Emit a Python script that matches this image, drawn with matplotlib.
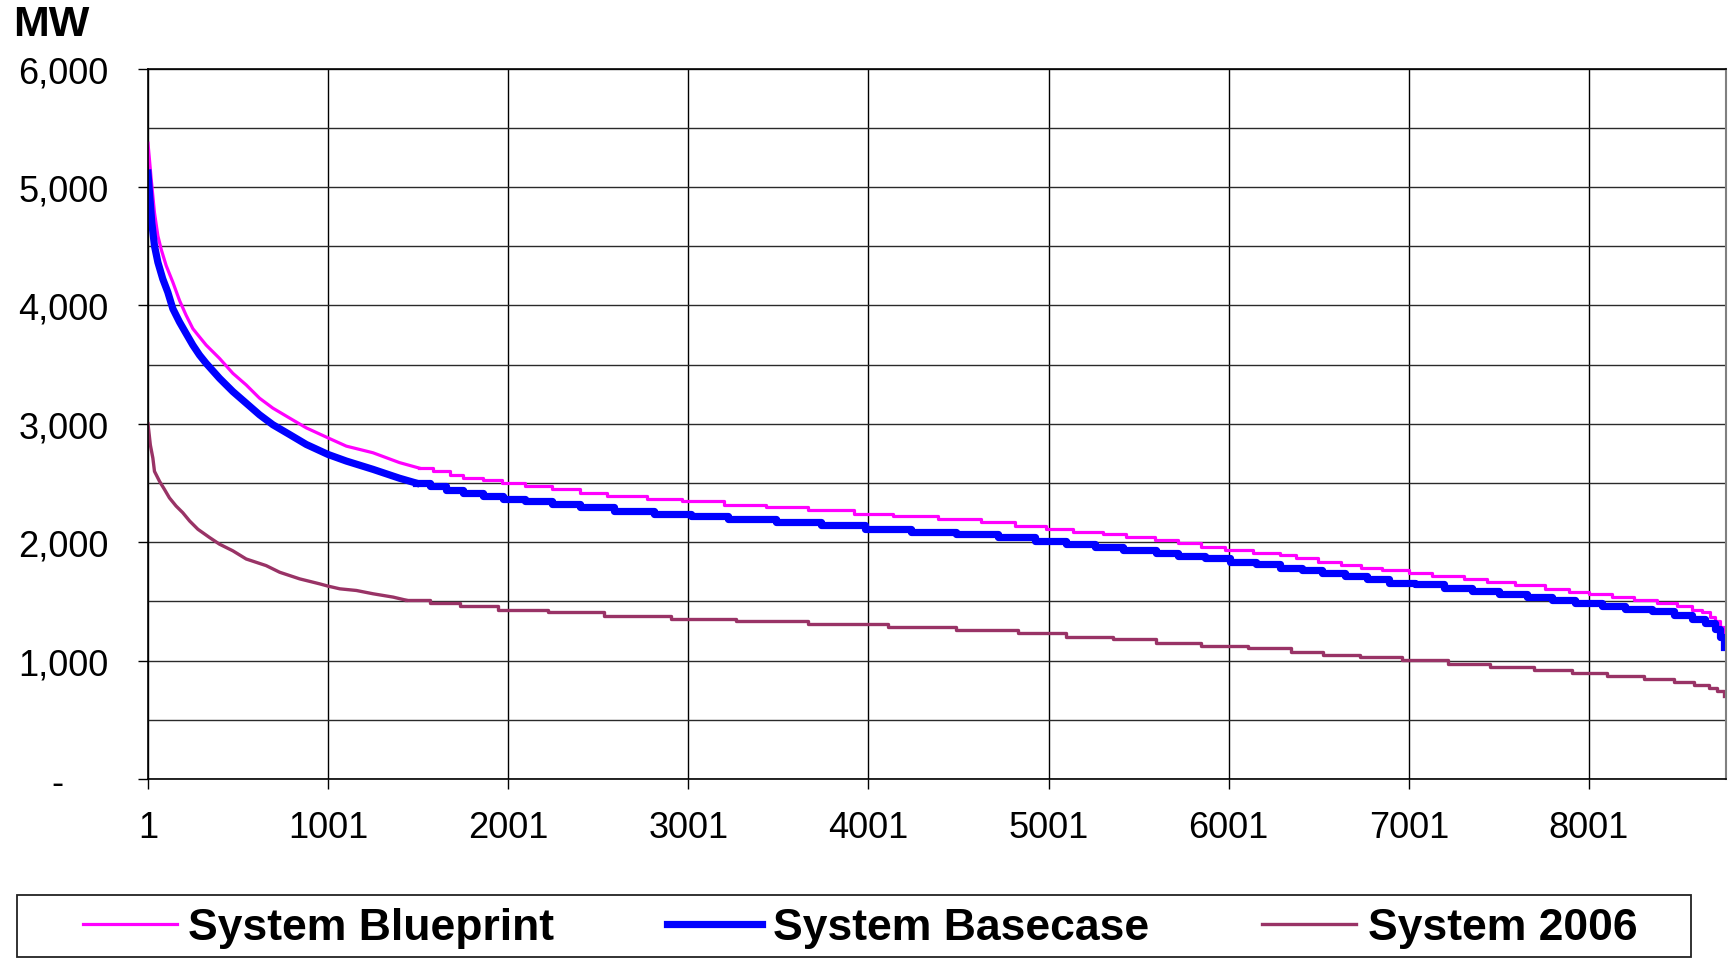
import matplotlib
matplotlib.use("Agg")
import matplotlib.pyplot as plt
from matplotlib.patches import Rectangle
from matplotlib.transforms import ScaledTranslation

plt.rcParams['font.family'] = ['Liberation Sans', 'DejaVu Sans']

# ---------------- data ----------------
blueprint_hours = [1, 19, 37, 56, 74, 102, 139, 176, 213, 250, 287, 324, 398, 472, 546,
                   620, 694, 787, 880, 1000, 1102, 1250, 1397, 1508, 1583, 1676, 1750,
                   1862, 1964, 2094, 2243, 2401, 2549, 2772, 2968, 3200, 3432, 3664, 3923,
                   4136, 4386, 4627, 4812, 4988, 5136, 5303, 5432, 5590, 5720, 5849, 5979,
                   6136, 6284, 6377, 6497, 6627, 6738, 6851, 6999, 7129, 7305, 7434, 7592,
                   7758, 7888, 7999, 8129, 8249, 8379, 8490, 8573, 8629, 8675, 8703, 8731, 8753]
blueprint_mw = [5369, 5062, 4782, 4586, 4474, 4335, 4195, 4041, 3915, 3803, 3733, 3664, 3552,
                3426, 3328, 3216, 3132, 3048, 2965, 2881, 2811, 2755, 2672, 2625, 2597, 2569,
                2546, 2521, 2499, 2471, 2446, 2418, 2392, 2367, 2345, 2317, 2294, 2269, 2241,
                2219, 2196, 2168, 2140, 2115, 2087, 2065, 2042, 2017, 1989, 1961, 1936, 1911,
                1888, 1863, 1835, 1810, 1785, 1762, 1740, 1715, 1687, 1662, 1636, 1608, 1583,
                1561, 1533, 1510, 1485, 1457, 1429, 1407, 1365, 1331, 1281, 1239]

basecase_hours = [1, 22, 37, 56, 83, 111, 139, 176, 213, 250, 287, 324, 398, 472, 546, 620,
                  694, 787, 880, 1000, 1102, 1250, 1397, 1490, 1564, 1657, 1750, 1862, 1973,
                  2094, 2243, 2401, 2587, 2810, 3014, 3219, 3488, 3738, 3979, 4238, 4488,
                  4720, 4923, 5099, 5257, 5414, 5599, 5720, 5868, 6007, 6155, 6284, 6405,
                  6516, 6645, 6766, 6888, 7036, 7194, 7351, 7499, 7657, 7796, 7925, 8073,
                  8203, 8351, 8471, 8573, 8647, 8703, 8731, 8753]
basecase_mw = [5117, 4698, 4502, 4363, 4223, 4111, 3971, 3859, 3761, 3664, 3580, 3510, 3384,
               3272, 3174, 3076, 2992, 2909, 2825, 2741, 2685, 2615, 2540, 2499, 2471, 2443,
               2415, 2387, 2364, 2345, 2322, 2294, 2266, 2241, 2219, 2196, 2168, 2143, 2115,
               2087, 2065, 2042, 2014, 1986, 1958, 1933, 1911, 1883, 1863, 1835, 1813, 1785,
               1762, 1737, 1712, 1687, 1659, 1645, 1611, 1589, 1561, 1533, 1513, 1488, 1460,
               1438, 1415, 1387, 1351, 1315, 1267, 1197, 1113]

y2006_hours = [1, 14, 28, 37, 65, 93, 120, 157, 194, 232, 278, 343, 398, 472, 546, 657, 732,
               843, 954, 1000, 1066, 1158, 1251, 1362, 1434, 1564, 1731, 1945, 2224, 2531,
               2903, 3266, 3664, 4108, 4488, 4831, 5099, 5358, 5599, 5849, 6108, 6349, 6525,
               6729, 6962, 7221, 7453, 7694, 7907, 8101, 8305, 8471, 8583, 8666, 8712, 8753]
y2006_mw = [3000, 2821, 2710, 2598, 2514, 2444, 2374, 2305, 2249, 2179, 2109, 2039, 1983,
            1927, 1858, 1802, 1746, 1690, 1648, 1629, 1606, 1592, 1564, 1536, 1510, 1485,
            1457, 1429, 1407, 1379, 1354, 1331, 1309, 1281, 1258, 1230, 1202, 1180, 1152,
            1127, 1104, 1076, 1051, 1029, 1001, 973, 950, 922, 897, 872, 844, 819, 796, 771,
            743, 700]

series_names = ['System Blueprint', 'System Basecase', 'System 2006']
x_ticks = [1, 1001, 2001, 3001, 4001, 5001, 6001, 7001, 8001]
x_tick_labels = ['1', '1001', '2001', '3001', '4001', '5001', '6001', '7001', '8001']
y_ticks = [0, 1000, 2000, 3000, 4000, 5000, 6000]
y_tick_labels = ['-', '1,000', '2,000', '3,000', '4,000', '5,000', '6,000']
y_minor = [500, 1500, 2500, 3500, 4500, 5500]

# ---------------- figure ----------------
W, H = 1735, 962
fig = plt.figure(figsize=(W / 100, H / 100), dpi=100)
ax = fig.add_axes([148 / W, 1 - 780 / H, (1725.7 - 148) / W, (780 - 69.5) / H])

styles = [dict(color='#FF00FF', lw=2.3), dict(color='#0000FF', lw=5.2), dict(color='#993366', lw=2.4)]
datasets = [(blueprint_hours, blueprint_mw), (basecase_hours, basecase_mw), (y2006_hours, y2006_mw)]
STEEP_END = 1400  # steep head drawn as a curve, flat body as the stepped duration curve
handles = []
for (hrs, mw), st, name in zip(datasets, styles, series_names):
    k = next(i for i, h in enumerate(hrs) if h >= STEEP_END)
    line, = ax.plot(hrs[:k + 1], mw[:k + 1], solid_joinstyle='round', label=name, **st)
    ax.plot(hrs[k:], mw[k:], drawstyle='steps-post', solid_joinstyle='round', **st)
    handles.append(line)

ax.set_xlim(1, 8760)
ax.set_ylim(0, 6000)

ax.set_xticks(x_ticks)
ax.set_xticklabels(x_tick_labels)
ax.set_yticks(y_ticks)
ax.set_yticklabels(y_tick_labels)
ax.set_yticks(y_minor, minor=True)

ax.tick_params(axis='both', which='major', direction='out', length=7.2, width=1.0,
               color='black', labelsize=26, labelcolor='black')
ax.tick_params(axis='y', which='major', pad=21)
ax.tick_params(axis='x', which='major', pad=15)
ax.tick_params(axis='y', which='minor', length=0)

ax.grid(True, axis='y', which='both', color='#2a2a2a', lw=1.0)
ax.grid(True, axis='x', which='major', color='black', lw=1.0)
ax.set_axisbelow(True)

for side in ['left', 'bottom', 'top']:
    ax.spines[side].set_color('black')
    ax.spines[side].set_linewidth(1.2)
ax.spines['right'].set_color('#808080')
ax.spines['right'].set_linewidth(1.5)

# shift the "-" zero label left like the accounting format
zero_label = ax.yaxis.get_major_ticks()[0].label1
zero_label.set_transform(zero_label.get_transform() +
                         ScaledTranslation(-0.45, 0, fig.dpi_scale_trans))

fig.text(13 / W, 1 - 25 / H, 'MW', fontsize=31, fontweight='bold', va='center', ha='left')

# legend
fig.add_artist(Rectangle((16.6 / W, 1 - 958 / H), (1690.7 - 16.6) / W, (958 - 896) / H,
                         transform=fig.transFigure, fill=False, edgecolor='#222222', lw=1.3))
fig.legend(handles=handles, loc='center', bbox_to_anchor=(860 / W, 1 - 929 / H),
           ncol=3, frameon=False, prop={'weight': 'bold', 'size': 32},
           handlelength=2.12, handletextpad=0.25, columnspacing=2.55, borderpad=0.1)

fig.savefig('out.png', dpi=100)
